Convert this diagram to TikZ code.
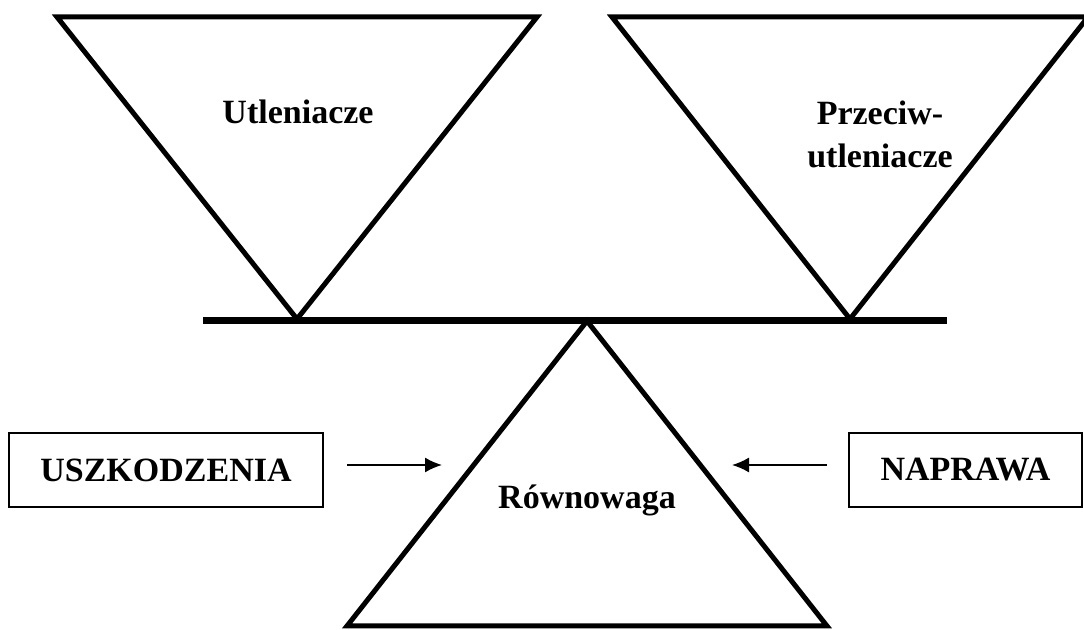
\documentclass[tikz,border=0pt]{standalone}
\usepackage{fontspec}
\setmainfont{Liberation Serif}
\usepackage{tikz}
\usetikzlibrary{arrows.meta,positioning,calc}

\begin{document}
\begin{tikzpicture}[x=0.5pt, y=-0.5pt,
    tri/.style={draw, line width=2.5pt, line join=miter},
    beam/.style={draw, line width=3.5pt},
    word/.style={font=\fontsize{17}{21.5}\selectfont\bfseries, align=center},
    box/.style={rectangle, draw, line width=1pt, minimum height=37pt, inner sep=0pt, word},
    push/.style={-{Latex[length=8.5pt,width=7.5pt]}, line width=0.8pt}]
    \useasboundingbox (0,0) rectangle (1084,630);

    % scale pans and pivot
    \coordinate (ox1) at (57,17);
    \coordinate (ox2) at (537,17);
    \coordinate (oxtip) at (297,319);
    \coordinate (anti1) at (612,17);
    \coordinate (anti2) at (1088,17);
    \coordinate (antitip) at (850,319);
    \coordinate (beamL) at (203,321);
    \coordinate (beamR) at (947,321);
    \coordinate (pivot) at (587,321);
    \coordinate (baseL) at (347,626);
    \coordinate (baseR) at (827,626);

    \draw [tri] (ox1) -- (ox2) -- (oxtip) -- cycle;
    \draw [tri] (anti1) -- (anti2) -- (antitip) -- cycle;
    \draw [beam] (beamL) -- (beamR);
    \draw [tri] (pivot) -- (baseR) -- (baseL) -- cycle;

    \node (oxidants) [word] at (298,112) {Utleniacze};
    \node (antioxidants) [word] at (880,134) {Przeciw-\\utleniacze};
    \node (balance) [word] at (587,500) {Równowaga};

    \node (damage) [box, minimum width=157pt] at (166,470) {USZKODZENIA};
    \node (repair) [box, minimum width=116.5pt] at (965.5,470) {NAPRAWA};

    \coordinate (damageStart) at (347,465);
    \coordinate (damageEnd) at (442,465);
    \coordinate (repairStart) at (827,465);
    \coordinate (repairEnd) at (732,465);
    \draw [push] (damageStart) -- (damageEnd);
    \draw [push] (repairStart) -- (repairEnd);
\end{tikzpicture}
\end{document}
